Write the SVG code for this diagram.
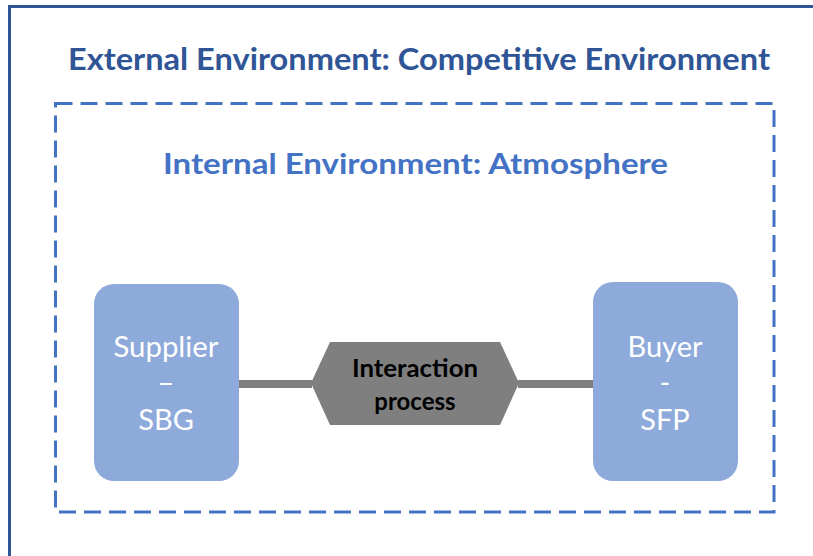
<svg xmlns="http://www.w3.org/2000/svg" width="813" height="556" viewBox="0 0 813 556">
<style>
.t{font-family:Lato,"Open Sans","Liberation Sans",sans-serif;text-anchor:middle}
.box{fill:#8EAADB}
.bt{fill:#fff;font-size:29px}
.it{font-size:24px;font-weight:bold;fill:#000}
</style>
<rect width="813" height="556" fill="#fff"/>
<g id="external">
<path d="M9.5 556 V6.5 H813" fill="none" stroke="#2F5597" stroke-width="3"/>
<text class="t" x="419" y="70" font-size="31" font-weight="bold" fill="#2F5597" textLength="702" lengthAdjust="spacingAndGlyphs">External Environment: Competitive Environment</text>
</g>
<g id="internal">
<rect x="55.5" y="103.5" width="718.5" height="408.5" fill="none" stroke="#4472C4" stroke-width="3" stroke-dasharray="17,8"/>
<text class="t" x="415.5" y="174" font-size="28" font-weight="bold" fill="#4472C4" textLength="505" lengthAdjust="spacingAndGlyphs">Internal Environment: Atmosphere</text>
</g>
<g id="connectors">
<line x1="239" y1="384" x2="312" y2="384" stroke="#7F7F7F" stroke-width="8"/>
<line x1="518" y1="384" x2="594" y2="384" stroke="#7F7F7F" stroke-width="8"/>
</g>
<g id="supplier">
<rect class="box" x="94" y="284" width="145" height="197" rx="20"/>
<text class="t bt" x="166" y="357" textLength="105" lengthAdjust="spacingAndGlyphs">Supplier</text>
<text class="t bt" x="166" y="393">–</text>
<text class="t bt" x="166" y="430">SBG</text>
</g>
<g id="buyer">
<rect class="box" x="593" y="282" width="145" height="199" rx="20"/>
<text class="t bt" x="665" y="357">Buyer</text>
<text class="t bt" x="665" y="393">-</text>
<text class="t bt" x="665" y="430">SFP</text>
</g>
<g id="interaction">
<polygon points="311,383 330,342 500,342 519,383 500,425 330,425" fill="#7F7F7F"/>
<text class="t it" x="415" y="377" textLength="126" lengthAdjust="spacingAndGlyphs">Interaction</text>
<text class="t it" x="415" y="410">process</text>
</g>
</svg>
